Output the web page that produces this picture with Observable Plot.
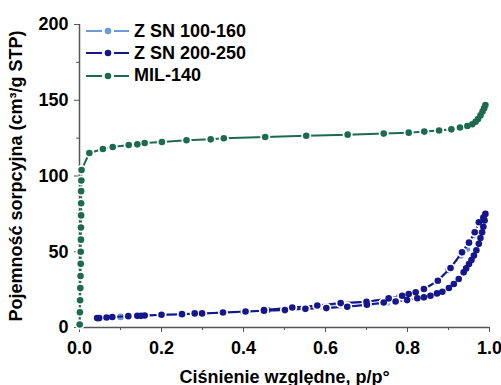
<!DOCTYPE html>
<html>
<head>
<meta charset="utf-8">
<script src="https://cdn.jsdelivr.net/npm/d3@7"></script>
<script src="https://cdn.jsdelivr.net/npm/@observablehq/plot@0.6"></script>
<style>
  html, body { margin: 0; padding: 0; background: #fff; }
  #wrap { position: relative; width: 501px; height: 385px; font-family: 'Liberation Sans', Arial, sans-serif; font-weight: bold; }
  .lg { position: absolute; left: 86px; height: 22px; display: flex; align-items: center; font-size: 18px; color: #000; white-space: nowrap; }
  .lg svg { margin-right: 4px; }
</style>
</head>
<body>
<div id="wrap"></div>
<script>
// ---- data ----
const seriesNames = ["Z SN 100-160", "Z SN 200-250", "MIL-140"];
const seriesColors = ["#6b9ad6", "#16168c", "#1c6b4f"];

// Z SN 100-160 (adsorption then desorption)
const zs100X = [0.045,0.07,0.10,0.15,0.20,0.25,0.30,0.35,0.40,0.45,0.50,0.55,0.60,0.65,0.70,0.75,0.80,0.84,0.87,0.90,0.92,0.94,0.96,0.975,0.985,0.99,
                0.98,0.965,0.945,0.93,0.90,0.87,0.84,0.81,0.78,0.75,0.70,0.64,0.58,0.52,0.46];
const zs100Y = [6.0,6.5,7.0,7.6,8.2,8.7,9.2,9.8,10.4,11.0,11.6,12.3,13.0,13.8,14.9,16.3,18.2,20.5,22.8,26.5,30.5,37.5,46,56,65,71.5,
                68,61,52,47.5,38,30,25,22,20.3,18.8,16.8,15.6,14.2,12.9,11.6];

// Z SN 200-250 (adsorption then desorption)
const zs200X = [0.043,0.048,0.066,0.080,0.119,0.141,0.150,0.159,0.200,0.250,0.281,0.299,0.350,0.405,0.450,0.501,0.551,0.602,0.653,0.701,0.742,0.771,0.799,0.824,0.840,0.856,0.872,0.885,0.901,0.913,0.925,0.937,0.943,0.950,0.956,0.962,0.968,0.974,0.978,0.982,0.985,0.988,0.990,
                0.985,0.974,0.964,0.950,0.933,0.905,0.874,0.840,0.820,0.803,0.787,0.754,0.700,0.637,0.580,0.519,0.450];
const zs200Y = [6.2,6.2,6.6,6.9,7.5,7.7,7.7,7.9,8.4,8.8,9.3,9.3,9.9,10.6,11.1,11.5,12.3,12.8,13.7,15.0,16.5,17.2,18.1,19.3,19.9,21.0,22.5,23.6,26.1,28.7,32.0,36.4,39.0,41.9,44.5,47.5,51.0,55.2,59.0,62.9,66.5,70.6,75.0,
                72.5,69.5,62.9,56.0,49.6,39.3,30.9,25.4,23.2,22.1,21.0,19.2,17.0,16.1,14.5,13.2,11.5];

// MIL-140
const milX = [0.0005,0.001,0.0015,0.002,0.0025,0.003,0.003,0.0035,0.0035,0.004,0.004,0.004,0.0045,0.005,
              0.024,0.057,0.081,0.120,0.141,0.159,0.201,0.261,0.320,0.352,0.453,0.553,0.654,0.742,0.803,0.841,0.877,0.907,0.928,0.946,0.958,0.966,0.972,0.978,0.983,0.987,0.990];
const milY = [2,10,18,26,34,42,50,58,66,74,82,90,97,104,
              115.2,117.8,119.1,120.5,120.9,121.8,122.4,123.6,124.2,124.9,125.7,126.6,127.3,128.0,128.6,129.3,130.0,130.8,132.0,133.0,134.2,135.8,137.6,140.0,142.5,144.8,146.8];

const xTicks = [0, 0.2, 0.4, 0.6, 0.8, 1.0];
const xMinor = [0.1, 0.3, 0.5, 0.7, 0.9];
const yTicks = [0, 50, 100, 150, 200];
const yMinor = [25, 75, 125, 175];

const toRows = (xs, ys) => xs.map((x, i) => ({x, y: ys[i]}));
const series = [toRows(zs100X, zs100Y), toRows(zs200X, zs200Y), toRows(milX, milY)];

const seriesMarks = series.flatMap((rows, i) => [
  Plot.line(rows, {x: "x", y: "y", stroke: seriesColors[i], strokeWidth: 2}),
  Plot.dot(rows, {x: "x", y: "y", r: 5, fill: "white", stroke: "none"}),
  Plot.dot(rows, {x: "x", y: "y", r: 3.3, fill: seriesColors[i], stroke: "none"})
]);

const axisColor = "#555";
const chart = Plot.plot({
  width: 501, height: 385,
  marginLeft: 79, marginRight: 12, marginTop: 24, marginBottom: 58,
  style: {fontFamily: "'Liberation Sans', Arial, sans-serif", fontWeight: "bold", fontSize: "18px", background: "white", color: "#000"},
  x: {domain: [0, 1]},
  y: {domain: [0, 200]},
  marks: [
    Plot.axisY({ticks: yMinor, tickSize: 3, tickFormat: () => "", label: null, stroke: axisColor}),
    Plot.axisY({ticks: yTicks, tickSize: 5, tickPadding: 6, tickFormat: d => String(d), fontSize: 18, fill: "#000", stroke: axisColor, label: null}),
    Plot.axisY({ticks: [], tickSize: 0, fontSize: 18, fill: "#000", label: "Pojemność sorpcyjna (cm³/g STP)", labelAnchor: "center", labelArrow: "none", labelOffset: 70}),
    Plot.axisX({ticks: xMinor, tickSize: 3, tickFormat: () => "", label: null, stroke: axisColor}),
    Plot.axisX({ticks: xTicks, tickSize: 5, tickPadding: 9, tickFormat: d3.format(".1f"), fontSize: 18, fill: "#000", stroke: axisColor, label: null}),
    Plot.axisX({ticks: [], tickSize: 0, fontSize: 18, fill: "#000", label: "Ciśnienie względne, p/p°", labelAnchor: "center", labelArrow: "none", labelOffset: 55}),
    Plot.ruleX([0], {stroke: axisColor, strokeWidth: 1.5}),
    Plot.ruleY([0], {stroke: axisColor, strokeWidth: 1.5}),
    ...seriesMarks
  ]
});

const wrap = document.getElementById("wrap");
wrap.appendChild(chart);

// legend
const rowTops = [20, 42, 64.5];
seriesNames.forEach((name, i) => {
  const row = document.createElement("div");
  row.className = "lg";
  row.style.top = rowTops[i] + "px";
  const c = seriesColors[i];
  row.innerHTML = `<svg width="44" height="22"><line x1="0" x2="16" y1="11" y2="11" stroke="${c}" stroke-width="2"/><circle cx="22" cy="11" r="3.3" fill="${c}"/><line x1="28" x2="43" y1="11" y2="11" stroke="${c}" stroke-width="2"/></svg><span>${name}</span>`;
  wrap.appendChild(row);
});
</script>
</body>
</html>
